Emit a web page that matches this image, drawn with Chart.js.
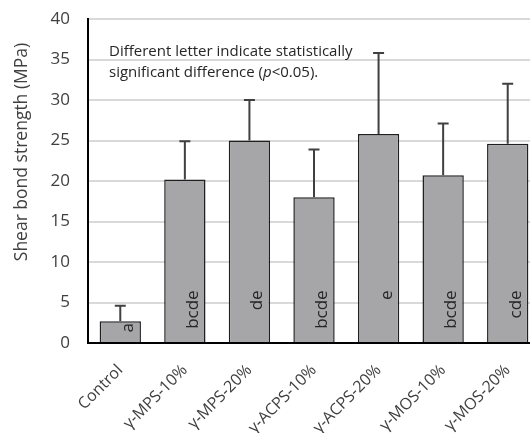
<!DOCTYPE html>
<html>
<head>
<meta charset="utf-8">
<script src="https://cdn.jsdelivr.net/npm/chart.js@4.4.0/dist/chart.umd.min.js"></script>
<style>
  html, body { margin: 0; padding: 0; background: #fff; overflow: hidden; }
  #wrap { width: 530px; height: 433px; overflow: hidden; }
</style>
</head>
<body>
<div id="wrap"><canvas id="chart" width="540" height="460"></canvas></div>
<script>
// data
const categories = ['Control', 'γ-MPS-10%', 'γ-MPS-20%', 'γ-ACPS-10%', 'γ-ACPS-20%', 'γ-MOS-10%', 'γ-MOS-20%'];
const meanValues = [2.7, 20.2, 25.0, 18.0, 25.8, 20.7, 24.6];
const sdValues = [1.9, 4.7, 5.0, 5.9, 10.0, 6.4, 7.4];
const groupLetters = ['a', 'bcde', 'de', 'bcde', 'e', 'bcde', 'cde'];
const yTickValues = [0, 5, 10, 15, 20, 25, 30, 35, 40];

const FONT = '"Open Sans", "DejaVu Sans", sans-serif';
const TEXT = '#404040';

// upper error bars with cap
const errorBars = {
    id: 'errorBars',
    afterDatasetsDraw(chart) {
        const ctx = chart.ctx;
        const y = chart.scales.y;
        const meta = chart.getDatasetMeta(0);
        ctx.save();
        ctx.strokeStyle = '#404040';
        ctx.lineWidth = 2;
        meta.data.forEach((bar, i) => {
            const top = y.getPixelForValue(meanValues[i] + sdValues[i]);
            ctx.beginPath();
            ctx.moveTo(bar.x, bar.y);
            ctx.lineTo(bar.x, top);
            ctx.moveTo(bar.x - 5.5, top);
            ctx.lineTo(bar.x + 5.5, top);
            ctx.stroke();
        });
        ctx.restore();
    }
};

// significance letters inside bars, rotated
const letterLabels = {
    id: 'letterLabels',
    afterDatasetsDraw(chart) {
        const ctx = chart.ctx;
        const y = chart.scales.y;
        const meta = chart.getDatasetMeta(0);
        ctx.save();
        ctx.fillStyle = '#262626';
        ctx.font = '17px ' + FONT;
        ctx.textAlign = 'right';
        ctx.textBaseline = 'alphabetic';
        meta.data.forEach((bar, i) => {
            const endY = Math.max(y.getPixelForValue(6.5), bar.y + 2);
            ctx.save();
            ctx.translate(bar.x + 13, endY);
            ctx.rotate(-Math.PI / 2);
            ctx.fillText(groupLetters[i], 0, 0);
            ctx.restore();
        });
        ctx.restore();
    }
};

// axis title + note
const extraText = {
    id: 'extraText',
    afterDraw(chart) {
        const ctx = chart.ctx;
        const area = chart.chartArea;
        ctx.save();
        ctx.fillStyle = TEXT;
        ctx.font = '17.5px ' + FONT;
        ctx.textAlign = 'center';
        ctx.textBaseline = 'middle';
        ctx.translate(22, 152);
        ctx.rotate(-Math.PI / 2);
        ctx.fillText('Shear bond strength (MPa)', 0, 0);
        ctx.restore();

        ctx.save();
        ctx.fillStyle = '#262626';
        ctx.textBaseline = 'middle';
        ctx.textAlign = 'left';
        const x0 = area.left + 21;
        ctx.font = '15px ' + FONT;
        ctx.fillText('Different letter indicate statistically', x0, 52);
        let x = x0;
        const parts = [['significant difference (', ''], ['p', 'italic '], ['<0.05).', '']];
        parts.forEach(p => {
            ctx.font = p[1] + '15px ' + FONT;
            ctx.fillText(p[0], x, 73);
            x += ctx.measureText(p[0]).width;
        });
        ctx.restore();
    }
};

new Chart(document.getElementById('chart'), {
    type: 'bar',
    data: {
        labels: categories,
        datasets: [{
            data: meanValues,
            backgroundColor: '#a6a6a9',
            borderColor: '#1f1f1f',
            borderWidth: 1.5,
            barPercentage: 0.64,
            categoryPercentage: 1
        }]
    },
    options: {
        responsive: false,
        animation: false,
        devicePixelRatio: 1,
        layout: { padding: { top: 19, left: 0, right: 0, bottom: 0 } },
        plugins: {
            legend: { display: false },
            tooltip: { enabled: false }
        },
        scales: {
            x: {
                grid: { display: false, drawTicks: false },
                border: { color: '#000', width: 2 },
                ticks: {
                    maxRotation: 45,
                    minRotation: 45,
                    padding: 18,
                    color: TEXT,
                    font: { family: FONT, size: 16 }
                },
                afterFit(scale) { scale.height = 117; }
            },
            y: {
                min: 0,
                max: 40,
                afterBuildTicks(scale) { scale.ticks = yTickValues.map(v => ({ value: v })); },
                grid: { color: '#d9d9d9', lineWidth: 2, drawTicks: false },
                border: { color: '#000', width: 2 },
                ticks: {
                    padding: 18,
                    color: TEXT,
                    font: { family: FONT, size: 17 }
                },
                afterFit(scale) {
                    scale.width = 88;
                    scale.paddingTop = 0;
                    scale.paddingBottom = 0;
                }
            }
        }
    },
    plugins: [errorBars, letterLabels, extraText]
});
</script>
</body>
</html>
